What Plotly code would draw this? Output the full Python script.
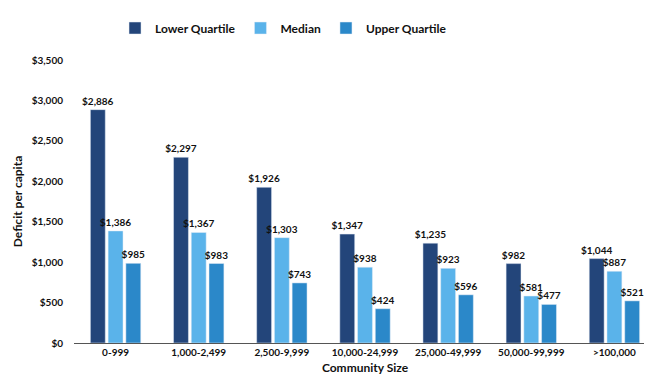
import plotly.graph_objects as go

categories = ['0-999', '1,000-2,499', '2,500-9,999', '10,000-24,999',
              '25,000-49,999', '50,000-99,999', '>100,000']
lower_quartile = [2886, 2297, 1926, 1347, 1235, 982, 1044]
median = [1386, 1367, 1303, 938, 923, 581, 887]
upper_quartile = [985, 983, 743, 424, 596, 477, 521]

series = [
    ('Lower Quartile', lower_quartile, '#23457a'),
    ('Median', median, '#5ab3ea'),
    ('Upper Quartile', upper_quartile, '#2b88c9'),
]

font = 'Lato, "Open Sans", sans-serif'

fig = go.Figure()
for name, vals, color in series:
    fig.add_trace(go.Bar(
        x=categories, y=vals, name=name, marker_color=color,
        text=[f'${v:,}' for v in vals], textposition='outside',
        constraintext='none',
        textfont=dict(size=10, color='#111111', family=font, weight='bold'),
        cliponaxis=False,
    ))

fig.update_layout(
    width=652, height=379,
    margin=dict(l=66, r=4, t=52, b=44),
    paper_bgcolor='white', plot_bgcolor='white',
    font=dict(family=font, color='#111111', size=10, weight='bold'),
    barmode='group', bargap=0.36, bargroupgap=0.16,
    legend=dict(orientation='h', x=0.36, xanchor='center', y=1.113, yanchor='middle',
                font=dict(size=12), itemwidth=30, traceorder='normal'),
    xaxis=dict(title=dict(text='Community Size', font=dict(size=12), standoff=6),
               showgrid=False, showline=True, linecolor='#555555', linewidth=1,
               tickfont=dict(size=10)),
    yaxis=dict(title=dict(text='Deficit per capita', font=dict(size=12), standoff=6),
               range=[0, 3500], dtick=500, tickprefix='$', tickformat=',',
               showgrid=False, zeroline=False, showline=False, automargin=False,
               ticks='outside', ticklen=8, tickcolor='white',
               tickfont=dict(size=10)),
)

fig.write_html('out.html')
